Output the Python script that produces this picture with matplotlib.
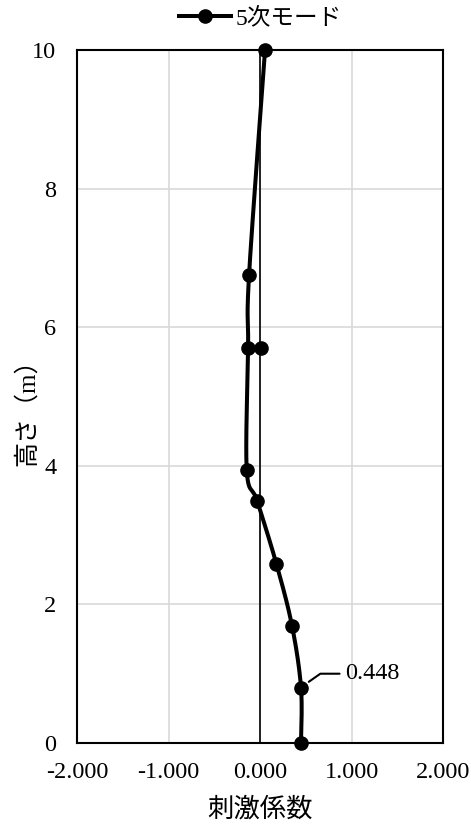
import matplotlib
matplotlib.use("Agg")
import matplotlib.pyplot as plt
import numpy as np

plt.rcParams["font.family"] = ["Liberation Serif", "Noto Sans CJK JP"]

# 5th mode participation factors
height = [0.0, 0.80, 1.69, 2.58, 3.49, 3.94, 5.70, 6.75, 10.0]
factor = [0.448, 0.448, 0.35, 0.18, -0.03, -0.145, -0.13, -0.12, 0.055]
extra_height = [5.70]
extra_factor = [0.01]
label_value = 0.448


def smooth(xs, ys, n=30):
    # Catmull-Rom through the points (like an Excel smoothed line)
    p = np.column_stack([xs, ys])
    p = np.vstack([p[0], p, p[-1]])
    out = []
    for i in range(1, len(p) - 2):
        p0, p1, p2, p3 = p[i - 1], p[i], p[i + 1], p[i + 2]
        t = np.linspace(0, 1, n)[:, None]
        seg = 0.5 * ((2 * p1) + (-p0 + p2) * t
                     + (2 * p0 - 5 * p1 + 4 * p2 - p3) * t ** 2
                     + (-p0 + 3 * p1 - 3 * p2 + p3) * t ** 3)
        out.append(seg)
    out = np.vstack(out)
    return out[:, 0], out[:, 1]


fig = plt.figure(figsize=(4.71, 8.30), dpi=100)
ax = fig.add_axes([0.1635, 0.1048, 0.7771, 0.835])

sx, sy = smooth(factor, height)
ax.plot(sx, sy, color="black", lw=2.9, zorder=3, clip_on=False)
ax.plot(factor, height, "o", color="black", ms=9.5, zorder=4, clip_on=False)
ax.plot(extra_factor, extra_height, "o", color="black", ms=9.5, zorder=4,
        clip_on=False)
ax.plot([], [], "-o", color="black", lw=2.9, ms=9.5, label="5次モード")

ax.axvline(0, color="black", lw=1.2, zorder=2)

ax.set_xlim(-2, 2)
ax.set_ylim(0, 10)
ax.set_xticks([-2, -1, 0, 1, 2])
ax.set_xticklabels(["-2.000", "-1.000", "0.000", "1.000", "2.000"])
ax.set_yticks([0, 2, 4, 6, 8, 10])
ax.grid(True, color="#d9d9d9", lw=1.2)
ax.set_axisbelow(True)
ax.tick_params(length=0, labelsize=17.5)
ax.tick_params(axis="x", pad=14)
ax.tick_params(axis="y", pad=15)
for s in ax.spines.values():
    s.set_color("black")
    s.set_linewidth(1.5)

ax.set_xlabel("刺激係数", fontsize=19, labelpad=10)
ax.set_ylabel("高さ（m）", fontsize=18, va="center")
ax.yaxis.set_label_coords(-0.137, 0.486)

ax.annotate(f"{label_value:.3f}", xy=(factor[1] + 0.06, height[1] + 0.06),
            xytext=(0.93, 1.0), fontsize=17.5, va="center",
            arrowprops=dict(arrowstyle="-", color="black", lw=1.5,
                            connectionstyle="angle,angleA=0,angleB=35,rad=0"))

ax.legend(loc="center", bbox_to_anchor=(0.5, 1.045), frameon=False,
          fontsize=17, handlelength=2.2, borderaxespad=0, handletextpad=0.2)

fig.savefig("out.png", dpi=100)
